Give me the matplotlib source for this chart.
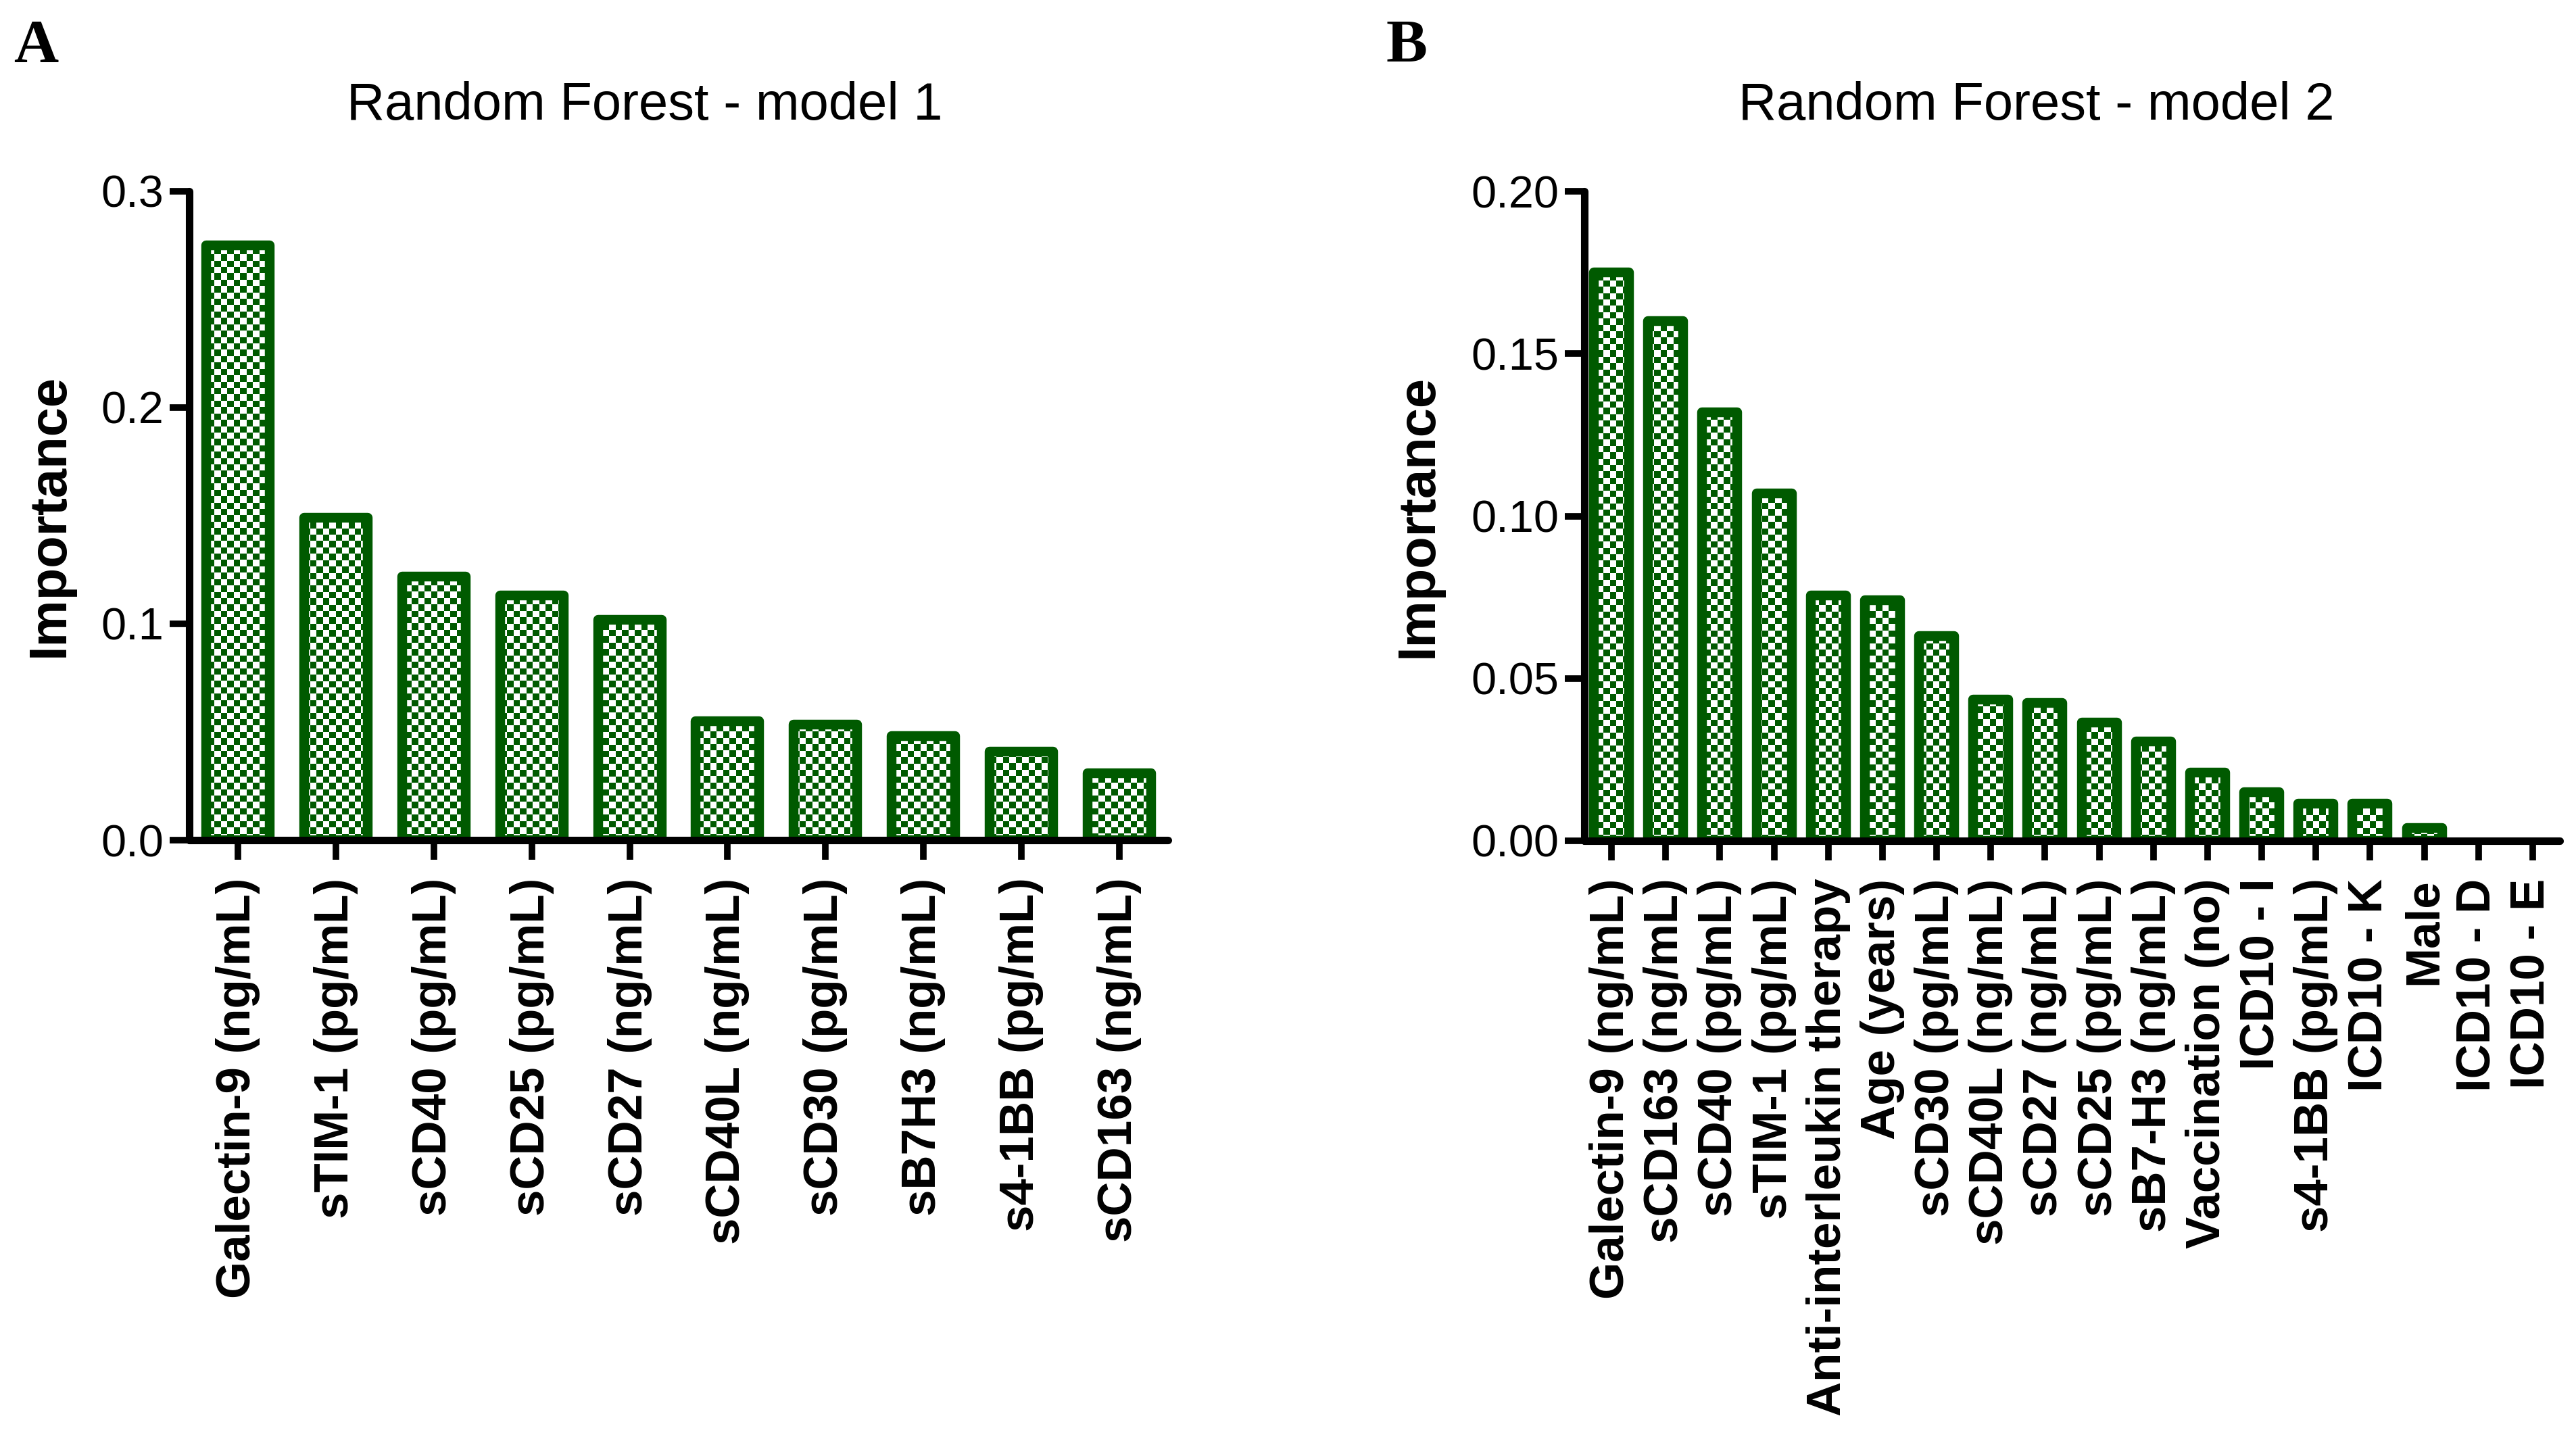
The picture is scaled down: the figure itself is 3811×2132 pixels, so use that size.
import numpy as np
import matplotlib
matplotlib.use('Agg')
import matplotlib.pyplot as plt
import matplotlib.colors as mcolors
import matplotlib.font_manager as fm

# ---------------- data ----------------
labels_a = ['Galectin-9 (ng/mL)', 'sTIM-1 (pg/mL)', 'sCD40 (pg/mL)', 'sCD25 (pg/mL)',
            'sCD27 (ng/mL)', 'sCD40L (ng/mL)', 'sCD30 (pg/mL)', 'sB7H3 (ng/mL)',
            's4-1BB (pg/mL)', 'sCD163 (ng/mL)']
imp_a = [0.275, 0.149, 0.122, 0.113, 0.102, 0.055, 0.0535, 0.048, 0.041, 0.031]

labels_b = ['Galectin-9 (ng/mL)', 'sCD163 (ng/mL)', 'sCD40 (pg/mL)', 'sTIM-1 (pg/mL)',
            'Anti-interleukin therapy', 'Age (years)', 'sCD30 (pg/mL)', 'sCD40L (ng/mL)',
            'sCD27 (ng/mL)', 'sCD25 (pg/mL)', 'sB7-H3 (ng/mL)', 'Vaccination (no)',
            'ICD10 - I', 's4-1BB (pg/mL)', 'ICD10 - K', 'Male', 'ICD10 - D', 'ICD10 - E']
imp_b = [0.175, 0.160, 0.132, 0.107, 0.0755, 0.074, 0.063, 0.0435, 0.0425, 0.0365,
         0.0305, 0.021, 0.015, 0.0115, 0.0115, 0.004, 0.0, 0.0]

yticks_a = [0.0, 0.1, 0.2, 0.3]
yticks_b = [0.00, 0.05, 0.10, 0.15, 0.20]

# ---------------- style ----------------
W, H, DPI = 3812, 2132, 100
green = '#005a00'
cell_px = 9.4

names = {f.name for f in fm.fontManager.ttflist}
if 'Liberation Sans Narrow' in names:
    narrow, tick_fs, title_fs = 'Liberation Sans Narrow', 54, 64
else:
    narrow, tick_fs, title_fs = 'Liberation Sans', 48, 56
sans = 'Liberation Sans' if 'Liberation Sans' in names else 'DejaVu Sans'
serif = 'Liberation Serif' if 'Liberation Serif' in names else 'DejaVu Serif'

checker_cmap = mcolors.ListedColormap(['white', green])

fig = plt.figure(figsize=(W / DPI, H / DPI), dpi=DPI)


def draw_panel(rect, labels, values, yticks, fmt, ylab_x):
    ax = fig.add_axes(rect)
    x = np.arange(len(labels))
    bars = ax.bar(x, values, width=0.65, facecolor='none', edgecolor=green,
                  linewidth=10.4, joinstyle='round', zorder=2)

    # checker fill, clipped to each bar
    wpx = rect[2] * W
    hpx = rect[3] * H
    nx, ny = int(round(wpx / cell_px)), int(round(hpx / cell_px))
    checker = np.add.outer(np.arange(ny), np.arange(nx)) % 2
    for b, v in zip(bars, values):
        if v <= 0:
            b.set_visible(False)
            continue
        im = ax.imshow(checker, extent=(0, 1, 0, 1), transform=ax.transAxes,
                       aspect='auto', interpolation='nearest', cmap=checker_cmap,
                       zorder=1)
        im.set_clip_path(b)

    ax.set_xlim(-0.5, len(labels) - 0.5)
    ax.set_ylim(0, yticks[-1])
    ax.set_yticks(yticks)
    ax.set_yticklabels([fmt.format(t) for t in yticks], fontfamily=narrow,
                       fontsize=tick_fs)
    ax.set_xticks(x)
    ax.set_xticklabels(labels, rotation=90, fontfamily=sans, fontweight='bold',
                       fontsize=51)

    for s in ['top', 'right']:
        ax.spines[s].set_visible(False)
    for s in ['left', 'bottom']:
        ax.spines[s].set_linewidth(8)
        ax.spines[s].set_capstyle('round')
        ax.spines[s].set_zorder(3)
    ax.tick_params(axis='both', direction='out', length=21, width=7, color='black')
    ax.tick_params(axis='y', pad=6)
    ax.tick_params(axis='x', pad=19)

    ax.set_ylabel('Importance', fontfamily=sans, fontweight='bold', fontsize=56)
    ax.yaxis.set_label_coords(ylab_x, 0.5)
    return ax


ax1 = draw_panel([280 / W, 1 - 1243 / H, 1448 / W, 960 / H], labels_a, imp_a,
                 yticks_a, '{:.1f}', -0.1175)
ax2 = draw_panel([2344 / W, 1 - 1244 / H, 1443 / W, 961 / H], labels_b, imp_b,
                 yticks_b, '{:.2f}', -0.145)

fig.text(954 / W, 1 - 177 / H, 'Random Forest - model 1', ha='center', va='baseline',
         fontfamily=narrow, fontsize=title_fs)
fig.text(3013 / W, 1 - 177 / H, 'Random Forest - model 2', ha='center', va='baseline',
         fontfamily=narrow, fontsize=title_fs)

fig.text(20 / W, 1 - 92 / H, 'A', ha='left', va='baseline', fontfamily=serif,
         fontweight='bold', fontsize=66)
fig.text(2051 / W, 1 - 92 / H, 'B', ha='left', va='baseline', fontfamily=serif,
         fontweight='bold', fontsize=66)

fig.savefig('out.png', dpi=DPI, facecolor='white')
